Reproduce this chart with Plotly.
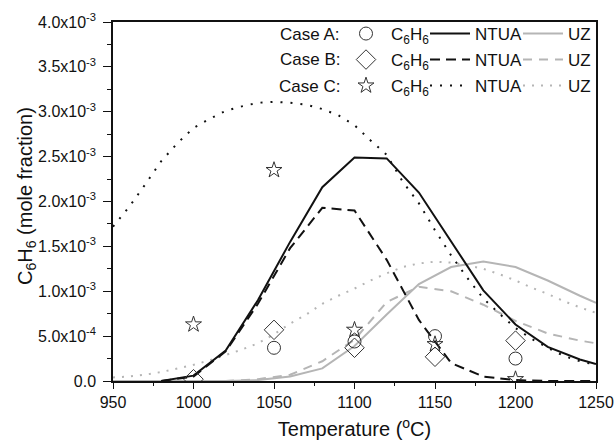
import plotly.graph_objects as go

# ---------------- data (mole fraction values in units of 1e-3) ----------------
T_ntua_ab = [980, 1000, 1020, 1040, 1060, 1080, 1100, 1120, 1140, 1160, 1180, 1200, 1220, 1240, 1250]
ntua_A_e3 = [0.0, 0.06, 0.34, 0.90, 1.55, 2.16, 2.49, 2.48, 2.10, 1.55, 1.01, 0.63, 0.38, 0.24, 0.19]
ntua_B_e3 = [0.0, 0.05, 0.33, 0.86, 1.48, 1.93, 1.90, 1.35, 0.68, 0.20, 0.05, 0.01, 0.0, 0.0, 0.0]

T_ntua_c = [950, 960, 970, 980, 990, 1000, 1010, 1020, 1030, 1040, 1050, 1060, 1070, 1080, 1090,
            1100, 1110, 1120, 1130, 1140, 1150, 1160, 1170, 1180, 1190, 1200, 1210, 1220, 1230, 1240, 1250]
ntua_C_e3 = [1.72, 1.94, 2.19, 2.45, 2.65, 2.82, 2.92, 3.01, 3.06, 3.10, 3.11, 3.10, 3.08, 3.03, 2.96,
             2.85, 2.68, 2.52, 2.22, 1.98, 1.68, 1.40, 1.15, 0.92, 0.75, 0.59, 0.47, 0.37, 0.28, 0.22, 0.18]

T_uz_ab = [950, 1000, 1020, 1040, 1060, 1080, 1100, 1120, 1140, 1160, 1180, 1200, 1220, 1240, 1250]
uz_A_e3 = [0.0, 0.0, 0.0, 0.01, 0.05, 0.14, 0.39, 0.74, 1.08, 1.27, 1.33, 1.27, 1.12, 0.95, 0.87]
uz_B_e3 = [0.0, 0.0, 0.0, 0.02, 0.07, 0.22, 0.46, 0.88, 1.05, 1.00, 0.85, 0.67, 0.53, 0.45, 0.42]

T_uz_c = T_ntua_c
uz_C_e3 = [0.04, 0.05, 0.07, 0.10, 0.14, 0.18, 0.23, 0.29, 0.35, 0.42, 0.52, 0.64, 0.74, 0.86, 0.95,
           1.03, 1.12, 1.20, 1.27, 1.31, 1.33, 1.32, 1.29, 1.25, 1.19, 1.12, 1.04, 0.97, 0.89, 0.82, 0.76]

T_exp_A = [1050, 1100, 1150, 1200]
exp_A_e3 = [0.37, 0.44, 0.50, 0.25]
T_exp_B = [1000, 1050, 1100, 1150, 1200]
exp_B_e3 = [0.02, 0.57, 0.37, 0.27, 0.45]
T_exp_C = [1000, 1050, 1100, 1150, 1200]
exp_C_e3 = [0.63, 2.35, 0.57, 0.41, 0.02]

y_tickvals_e3 = [0.0, 0.5, 1.0, 1.5, 2.0, 2.5, 3.0, 3.5, 4.0]
y_ticktext = ["0.0", "5.0x10<sup>-4</sup>", "1.0x10<sup>-3</sup>", "1.5x10<sup>-3</sup>",
              "2.0x10<sup>-3</sup>", "2.5x10<sup>-3</sup>", "3.0x10<sup>-3</sup>",
              "3.5x10<sup>-3</sup>", "4.0x10<sup>-3</sup>"]
x_tickvals = [950, 1000, 1050, 1100, 1150, 1200, 1250]
case_labels = ["Case A:", "Case B:", "Case C:"]
y_title = "C<sub>6</sub>H<sub>6</sub> (mole fraction)"
x_title = "Temperature (<sup>o</sup>C)"


def sc(v):
    return [x * 1e-3 for x in v]


FONT = "Liberation Sans, Arial, sans-serif"
BLACK = "#111111"
GRAY = "#b5b5b5"
MK = "#333333"
C6H6 = "C<sub>6</sub>H<sub>6</sub>"

fig = go.Figure()

# model lines (NTUA black, UZ gray)
line_specs = [
    (T_uz_ab, uz_A_e3, GRAY, "solid", "UZ", "legend3"),
    (T_uz_ab, uz_B_e3, GRAY, "9px,7px", "UZ", "legend6"),
    (T_uz_c, uz_C_e3, GRAY, "2px,7px", "UZ", "legend9"),
    (T_ntua_ab, ntua_A_e3, BLACK, "solid", "NTUA", "legend2"),
    (T_ntua_ab, ntua_B_e3, BLACK, "10px,6px", "NTUA", "legend5"),
    (T_ntua_c, ntua_C_e3, BLACK, "2px,8px", "NTUA", "legend8"),
]
for xs, ys, col, dash, name, lg in line_specs:
    fig.add_trace(go.Scatter(x=xs, y=sc(ys), mode="lines", name=name, legend=lg,
                             line=dict(color=col, width=2, dash=dash)))

# experimental markers
marker_specs = [
    (T_exp_A, exp_A_e3, "circle-open", 13, "legend"),
    (T_exp_B, exp_B_e3, "diamond-open", 15, "legend4"),
    (T_exp_C, exp_C_e3, "star-open", 12, "legend7"),
]
for xs, ys, sym, sz, lg in marker_specs:
    fig.add_trace(go.Scatter(x=xs, y=sc(ys), mode="markers", name=C6H6, legend=lg,
                             marker=dict(symbol=sym, size=sz, color=MK, line=dict(color=MK, width=1))))

# plot area geometry (pixels) used to place the legend rows
L, R, T, B = 113, 18, 22, 66
W, H = 614, 447
pw, ph = W - L - R, H - T - B


def px(xp):
    return (xp - L) / pw


def py(yp):
    return (H - B - yp) / ph


row_y = [34, 60, 86]
col_x = [341, 425, 518]
legend_names = ["legend", "legend2", "legend3", "legend4", "legend5", "legend6",
                "legend7", "legend8", "legend9"]
leg_layout = {}
for i, lname in enumerate(legend_names):
    r, c = divmod(i, 3)
    leg_layout[lname] = dict(x=px(col_x[c]), y=py(row_y[r]), xanchor="left", yanchor="middle",
                             bgcolor="rgba(0,0,0,0)", borderwidth=0, orientation="h",
                             font=dict(family=FONT, size=17, color=BLACK), itemwidth=40,
                             tracegroupgap=0)

annotations = []
for r, lab in enumerate(case_labels):
    annotations.append(dict(x=px(342), y=py(row_y[r]), xref="paper", yref="paper", text=lab,
                            showarrow=False, xanchor="right", yanchor="middle",
                            font=dict(family=FONT, size=17, color=BLACK)))
annotations.append(dict(x=px(26), y=py(196), xref="paper", yref="paper", text=y_title,
                        showarrow=False, textangle=-90, xanchor="center", yanchor="middle",
                        font=dict(family=FONT, size=20, color=BLACK)))

fig.update_layout(
    width=W, height=H,
    margin=dict(l=L, r=R, t=T, b=B, autoexpand=False),
    paper_bgcolor="white", plot_bgcolor="white",
    font=dict(family=FONT, size=16, color=BLACK),
    annotations=annotations,
    showlegend=True,
    **leg_layout,
)

fig.update_xaxes(
    range=[950, 1250], tickvals=x_tickvals, ticks="outside", ticklen=6, tickwidth=1,
    tickcolor=BLACK, showline=True, linecolor=BLACK, linewidth=1.5, mirror=True,
    showgrid=False, zeroline=False, tickfont=dict(family=FONT, size=16, color=BLACK),
    ticklabelstandoff=0,
    minor=dict(dtick=25, ticks="outside", ticklen=3, tickcolor=BLACK, showgrid=False),
    title=dict(text=x_title, font=dict(family=FONT, size=20, color=BLACK), standoff=12),
)
fig.update_yaxes(
    range=[0, 4e-3], tickvals=sc(y_tickvals_e3), ticktext=y_ticktext, ticks="outside", ticklen=8,
    tickwidth=1, tickcolor=BLACK, showline=True, linecolor=BLACK, linewidth=1.5, mirror=True,
    showgrid=False, zeroline=False, tickfont=dict(family=FONT, size=16, color=BLACK),
    ticklabelstandoff=4,
    minor=dict(dtick=0.25e-3, ticks="outside", ticklen=4, tickcolor=BLACK, showgrid=False),
)

fig.write_html("out.html", config={"displayModeBar": False},
               post_script="document.body.style.margin='0px';")
